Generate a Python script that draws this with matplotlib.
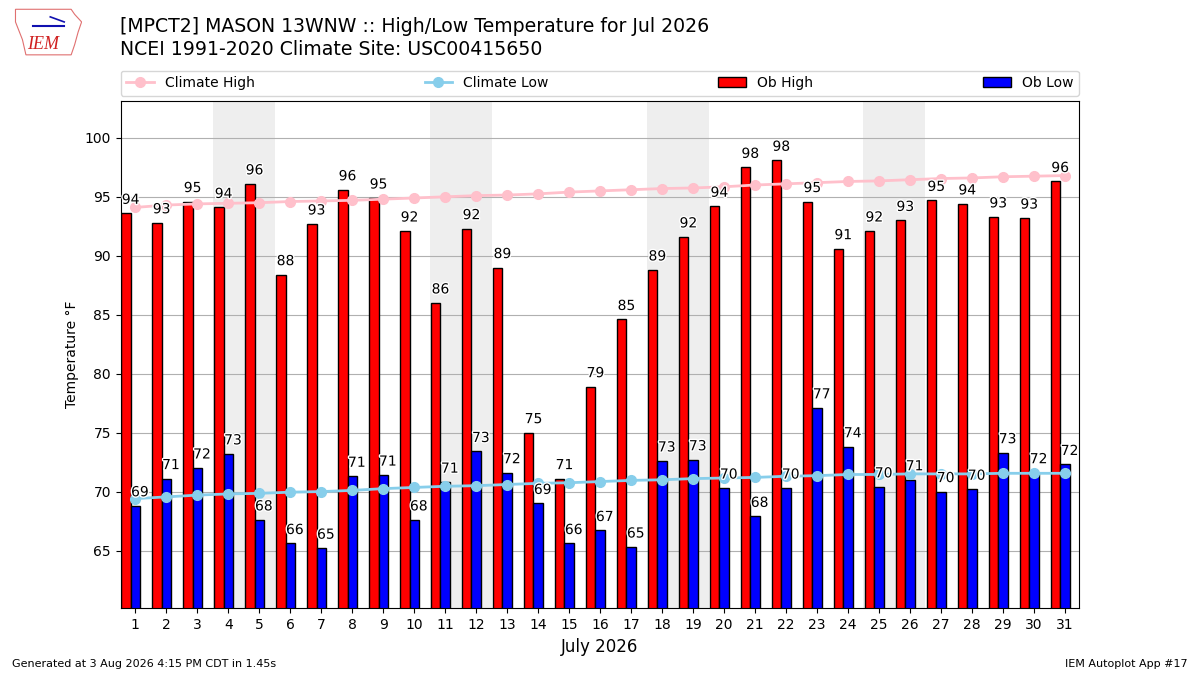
import matplotlib
matplotlib.use("Agg")
import matplotlib.pyplot as plt
import matplotlib.patheffects as PathEffects
from matplotlib.patches import Polygon
import numpy as np

days = list(range(1, 32))
ob_high = [93.6, 92.8, 94.6, 94.1, 96.1, 88.4, 92.7, 95.6, 94.9, 92.1,
           86.0, 92.3, 89.0, 75.0, 71.1, 78.9, 84.6, 88.8, 91.6, 94.2,
           97.5, 98.1, 94.6, 90.6, 92.1, 93.0, 94.7, 94.4, 93.3, 93.2, 96.3]
ob_low = [68.8, 71.1, 72.0, 73.2, 67.6, 65.6, 65.2, 71.3, 71.4, 67.6,
          70.8, 73.4, 71.6, 69.0, 65.6, 66.7, 65.3, 72.6, 72.7, 70.3,
          67.9, 70.3, 77.1, 73.8, 70.4, 71.0, 70.0, 70.2, 73.3, 71.6, 72.3]
clim_high = [94.1, 94.3, 94.4, 94.45, 94.5, 94.6, 94.65, 94.7, 94.8, 94.9,
             95.0, 95.1, 95.15, 95.25, 95.4, 95.5, 95.6, 95.7, 95.75, 95.85,
             96.0, 96.1, 96.2, 96.3, 96.35, 96.45, 96.55, 96.6, 96.7, 96.75, 96.8]
clim_low = [69.4, 69.55, 69.7, 69.8, 69.85, 69.95, 70.0, 70.1, 70.25, 70.35,
            70.45, 70.5, 70.6, 70.7, 70.75, 70.85, 70.95, 71.0, 71.1, 71.15,
            71.2, 71.3, 71.35, 71.45, 71.45, 71.5, 71.5, 71.5, 71.55, 71.55, 71.55]
weekend_starts = [4, 11, 18, 25]

title = ("[MPCT2] MASON 13WNW :: High/Low Temperature for Jul 2026\n"
         "NCEI 1991-2020 Climate Site: USC00415650")

fig = plt.figure(figsize=(12, 6.75), dpi=100)
ax = fig.add_axes([0.1006, 0.0988, 0.7984, 0.752])

for d in weekend_starts:
    ax.axvspan(d - 0.5, d + 1.5, color="#EEEEEE", zorder=0, lw=0)

x = np.array(days)
ax.bar(x - 0.3, ob_high, width=0.3, fc="r", ec="k", lw=1, label="Ob High", zorder=2)
ax.bar(x, ob_low, width=0.3, fc="b", ec="k", lw=1, label="Ob Low", zorder=2)
ax.plot(x, clim_high, marker="o", color="pink", lw=2, ms=7, label="Climate High", zorder=3)
ax.plot(x, clim_low, marker="o", color="skyblue", lw=2, ms=7, label="Climate Low", zorder=3)

pe = [PathEffects.withStroke(linewidth=2, foreground="white")]
for d, h, l in zip(days, ob_high, ob_low):
    ax.text(d - 0.15, h + 0.55, f"{h:.0f}", ha="center", va="bottom",
            fontsize=10, zorder=5, path_effects=pe)
    ax.text(d + 0.15, l + 0.55, f"{l:.0f}", ha="center", va="bottom",
            fontsize=10, zorder=5, path_effects=pe)

ax.set_xlim(0.53, 31.45)
ax.set_ylim(60.1, 103.15)
ax.set_xticks(days)
ax.set_xticklabels([str(d) for d in days])
ax.set_yticks(range(65, 101, 5))
ax.tick_params(labelsize=10)
ax.yaxis.grid(True, color="#B0B0B0", lw=0.8, zorder=1)
ax.set_axisbelow(True)
ax.set_ylabel("Temperature °F", fontsize=10)
ax.set_xlabel("July 2026", fontsize=12)

handles, labels = ax.get_legend_handles_labels()
order = [labels.index(n) for n in ["Climate High", "Climate Low", "Ob High", "Ob Low"]]
ax.legend([handles[i] for i in order], [labels[i] for i in order],
          loc="lower left", bbox_to_anchor=(0, 1.01, 1, 0.05), mode="expand",
          ncol=4, borderaxespad=0, fontsize=10)

fig.text(0.1, 0.975, title, ha="left", va="top", fontsize=13.6, linespacing=1.3)
fig.text(0.01, 0.012, "Generated at 3 Aug 2026 4:15 PM CDT in 1.45s", fontsize=8)
fig.text(0.99, 0.012, "IEM Autoplot App #17", fontsize=8, ha="right")

# IEM logo approximation
logo = fig.add_axes([0.01, 0.915, 0.058, 0.075])
logo.set_xlim(0, 1)
logo.set_ylim(0, 1)
logo.axis("off")
logo.add_patch(Polygon([[0.05, 0.95], [0.85, 0.95], [0.9, 0.85], [1.0, 0.7],
                        [0.95, 0.5], [0.9, 0.25], [0.85, 0.05], [0.2, 0.05],
                        [0.15, 0.35], [0.05, 0.7]], closed=True, fill=False,
                       ec="#E07070", lw=0.8))
logo.text(0.45, 0.25, "IEM", color="#D02020", fontsize=13, style="italic",
          family="Liberation Serif", ha="center", va="center")
logo.plot([0.3, 0.75], [0.62, 0.62], color="#1010B0", lw=1.5)
logo.plot([0.55, 0.75], [0.8, 0.7], color="#1010B0", lw=1.2)

fig.savefig("out.png", dpi=100)
